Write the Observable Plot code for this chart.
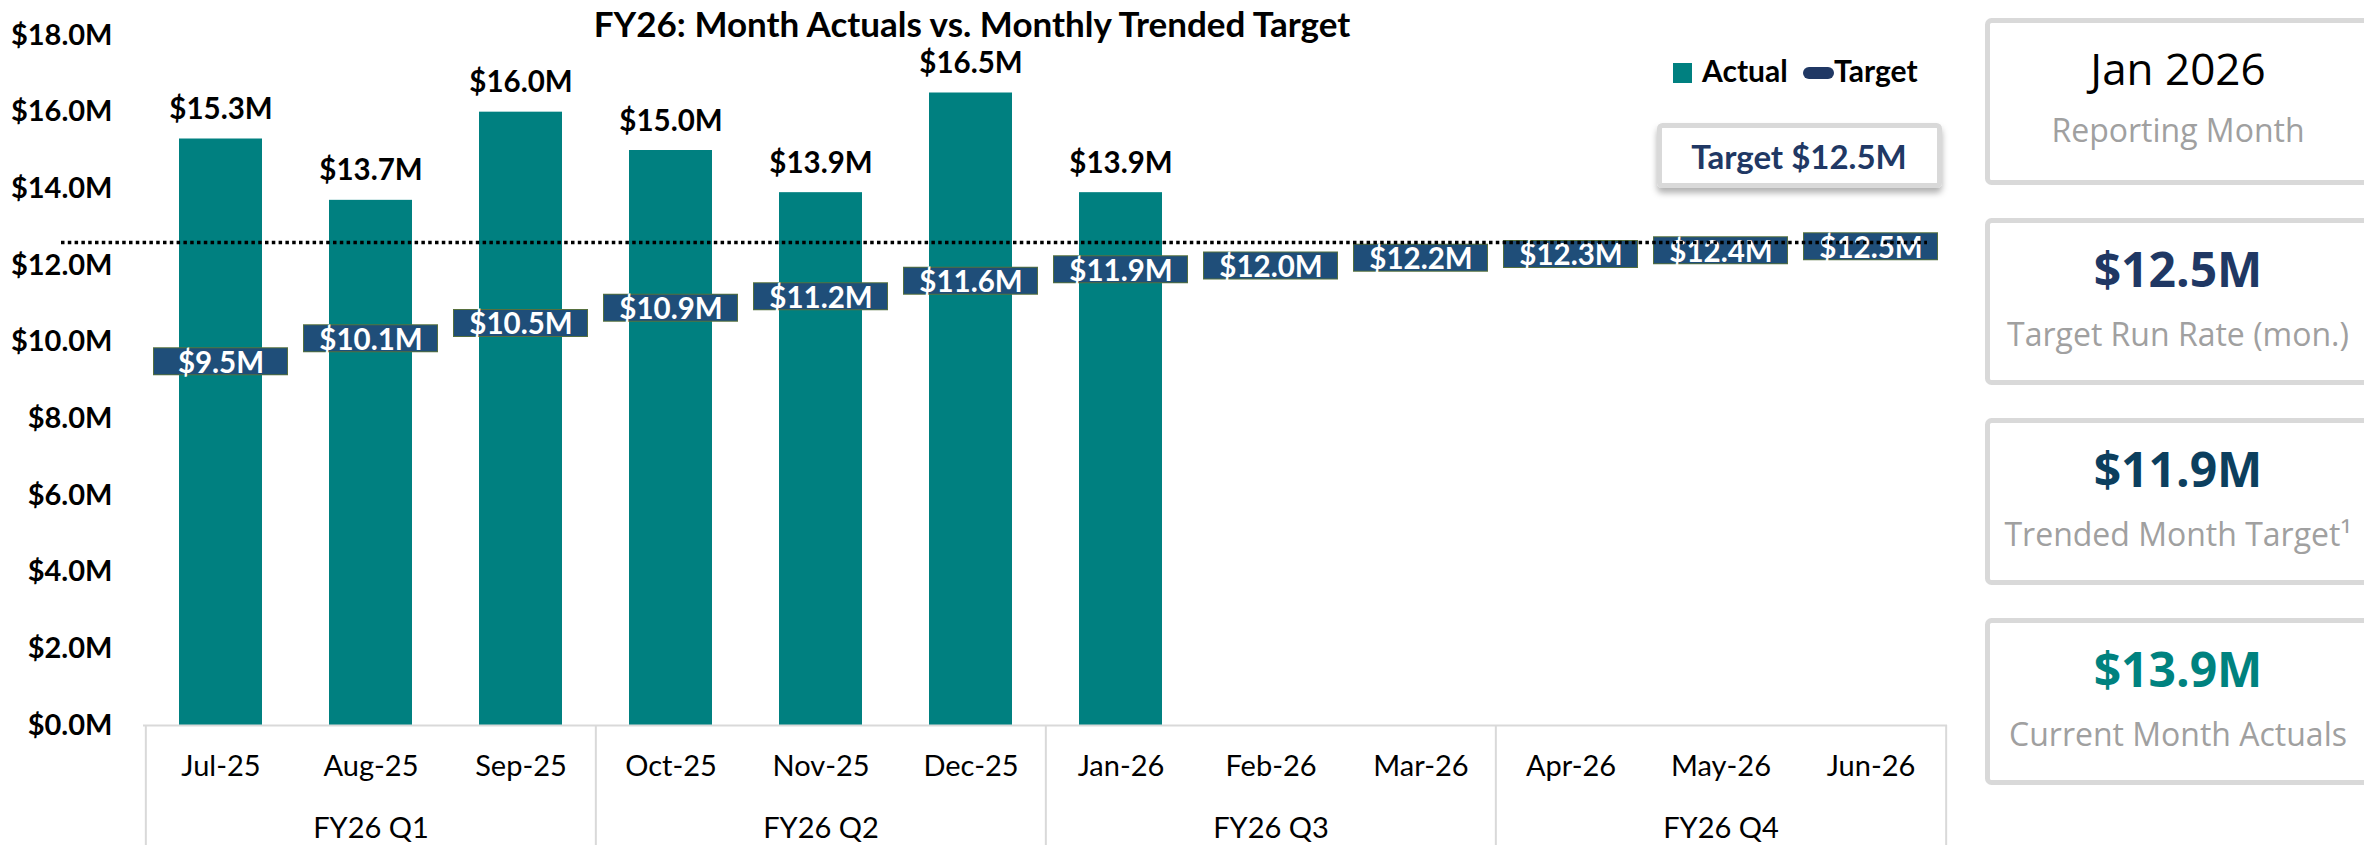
<!DOCTYPE html>
<html><head><meta charset="utf-8">
<script src="https://cdn.jsdelivr.net/npm/d3@7"></script>
<script src="https://cdn.jsdelivr.net/npm/@observablehq/plot@0.6"></script>
<style>
html,body{margin:0;padding:0;background:#fff;overflow:hidden}
#wrap{position:relative;width:2364px;height:845px;background:#fff}
#chart{position:absolute;left:0;top:0}
#overlay{position:absolute;left:0;top:0;pointer-events:none}
</style></head><body>
<div id="wrap"><div id="chart"></div><svg id="overlay" width="2364" height="845"></svg></div>
<script>
// ---- data ----
const months = ["Jul-25","Aug-25","Sep-25","Oct-25","Nov-25","Dec-25","Jan-26","Feb-26","Mar-26","Apr-26","May-26","Jun-26"];
const actuals = [15.3, 13.7, 16.0, 15.0, 13.9, 16.5, 13.9];
const targets = [9.5, 10.1, 10.5, 10.9, 11.2, 11.6, 11.9, 12.0, 12.2, 12.3, 12.4, 12.5];
const quarters = ["FY26 Q1","FY26 Q2","FY26 Q3","FY26 Q4"];
const quarterMid = ["Aug-25","Nov-25","Feb-26","May-26"];
const quarterStart = ["Jul-25","Oct-25","Jan-26","Apr-26"];
const yTicks = [0, 2, 4, 6, 8, 10, 12, 14, 16, 18];
const targetLineLevel = [12.6];
const title = "FY26: Month Actuals vs. Monthly Trended Target";
const legendLabels = ["Actual", "Target"];
const targetBoxLabel = "Target $12.5M";
const cardValues = ["Jan 2026", "$12.5M", "$11.9M", "$13.9M"];
const cardLabels = ["Reporting Month", "Target Run Rate (mon.)", "Trended Month Target\u00B9", "Current Month Actuals"];

// ---- styles ----
const TEAL = "#008080", NAVY = "#1f4e79", DNAVY = "#203864";
const cardValueColors = ["#000000", DNAVY, "#0c3f5e", "#00827f"];
const fmt = v => `$${v.toFixed(1)}M`;

const W = 1975, ML = 143, MR = 28, MT = 35, MB = 120, H = 845;
const step = (W - ML - MR) / months.length;

const actualRows = actuals.map((v, i) => ({month: months[i], value: v}));
const targetRows = targets.map((v, i) => ({month: months[i], value: v}));
const quarterRows = quarters.map((q, i) => ({q, mid: quarterMid[i]}));

const plot = Plot.plot({
  width: W, height: H,
  marginLeft: ML, marginRight: MR, marginTop: MT, marginBottom: MB,
  style: {fontFamily: "Lato", background: "white", color: "#000", overflow: "visible"},
  x: {domain: months, paddingInner: 0.448, paddingOuter: 0.224},
  y: {domain: [0, 18]},
  marks: [
    Plot.axisY({ticks: yTicks, tickFormat: fmt, tickSize: 0, tickPadding: 31, fontSize: 29, fontWeight: "bold", label: null}),
    Plot.axisX({tickSize: 0, tickPadding: 30, fontSize: 29, label: null}),
    Plot.barY(actualRows, {x: "month", y: "value", fill: TEAL}),
    Plot.text(actualRows, {x: "month", y: "value", text: d => fmt(d.value), dy: -20, lineAnchor: "bottom", fontSize: 29.5, fontWeight: "bold", fill: "#000"}),
    Plot.ruleY([0], {stroke: "#d9d9d9", strokeWidth: 2}),
    Plot.ruleX(quarterStart, {x: d => d, dx: -step / 2, insetTop: H - MB - MT, insetBottom: -MB, stroke: "#d9d9d9", strokeWidth: 2}),
    Plot.ruleX([months[months.length - 1]], {x: d => d, dx: step / 2, insetTop: H - MB - MT, insetBottom: -MB, stroke: "#d9d9d9", strokeWidth: 2}),
    Plot.text(quarterRows, {x: "mid", text: "q", frameAnchor: "bottom", lineAnchor: "top", dy: 92, fontSize: 29, fill: "#000"}),
    Plot.tickY(targetRows, {x: "month", y: "value", stroke: "#56703f", strokeWidth: 28, insetLeft: -26, insetRight: -26}),
    Plot.tickY(targetRows, {x: "month", y: "value", stroke: NAVY, strokeWidth: 26, insetLeft: -25, insetRight: -25}),
    Plot.text(targetRows, {x: "month", y: "value", text: d => fmt(d.value), dy: 2, fontSize: 29.5, fontWeight: "bold", fill: "white"}),
    Plot.ruleY(targetLineLevel, {stroke: "#000", strokeWidth: 3.5, strokeDasharray: "3.5,3.3", insetLeft: -82, insetRight: 20})
  ]
});
document.getElementById("chart").appendChild(plot);

// ---- overlay: title, legend, target box, KPI cards ----
const ov = d3.select("#overlay");
const defs = ov.append("defs");
const f = defs.append("filter").attr("id", "shadow").attr("x", "-20%").attr("y", "-20%").attr("width", "140%").attr("height", "160%");
f.append("feDropShadow").attr("dx", 0).attr("dy", 5).attr("stdDeviation", 3).attr("flood-color", "#000").attr("flood-opacity", 0.3);

ov.append("text").attr("x", 972).attr("y", 37).attr("text-anchor", "middle")
  .attr("font-family", "Lato").attr("font-weight", "bold").attr("font-size", 35).attr("fill", "#000").text(title);

// legend
ov.append("rect").attr("x", 1673).attr("y", 63).attr("width", 19).attr("height", 20).attr("fill", TEAL);
ov.append("text").attr("x", 1702).attr("y", 82).attr("font-family", "Lato").attr("font-weight", "bold").attr("font-size", 30).attr("fill", "#000").text(legendLabels[0]);
ov.append("rect").attr("x", 1803).attr("y", 67).attr("width", 31).attr("height", 12).attr("rx", 6).attr("fill", DNAVY);
ov.append("text").attr("x", 1834).attr("y", 82).attr("font-family", "Lato").attr("font-weight", "bold").attr("font-size", 30).attr("fill", "#000").text(legendLabels[1]);

// target box
ov.append("rect").attr("x", 1659.5).attr("y", 125.5).attr("width", 280).attr("height", 60).attr("rx", 3)
  .attr("fill", "white").attr("stroke", "#d9d9d9").attr("stroke-width", 5).attr("filter", "url(#shadow)");
ov.append("text").attr("x", 1799).attr("y", 169).attr("text-anchor", "middle").attr("font-family", "Lato")
  .attr("font-weight", "bold").attr("font-size", 33).attr("fill", DNAVY).text(targetBoxLabel);

// cards
cardValues.forEach((v, i) => {
  const top = 18 + i * 200;
  ov.append("rect").attr("x", 1987.5).attr("y", top + 2.5).attr("width", 390).attr("height", 162).attr("rx", 4)
    .attr("fill", "white").attr("stroke", "#d9d9d9").attr("stroke-width", 5);
  ov.append("text").attr("x", 2178).attr("y", top + (i === 0 ? 67 : 69)).attr("text-anchor", "middle")
    .attr("font-family", "Open Sans").attr("font-weight", i === 0 ? "normal" : "bold")
    .attr("font-size", i === 0 ? 44 : 48).attr("fill", cardValueColors[i]).text(v);
  ov.append("text").attr("x", 2178).attr("y", top + (i === 0 ? 124 : 128)).attr("text-anchor", "middle")
    .attr("font-family", "Open Sans").attr("font-size", 32).attr("fill", "#a0a0a0").text(cardLabels[i]);
});
</script>
</body></html>
